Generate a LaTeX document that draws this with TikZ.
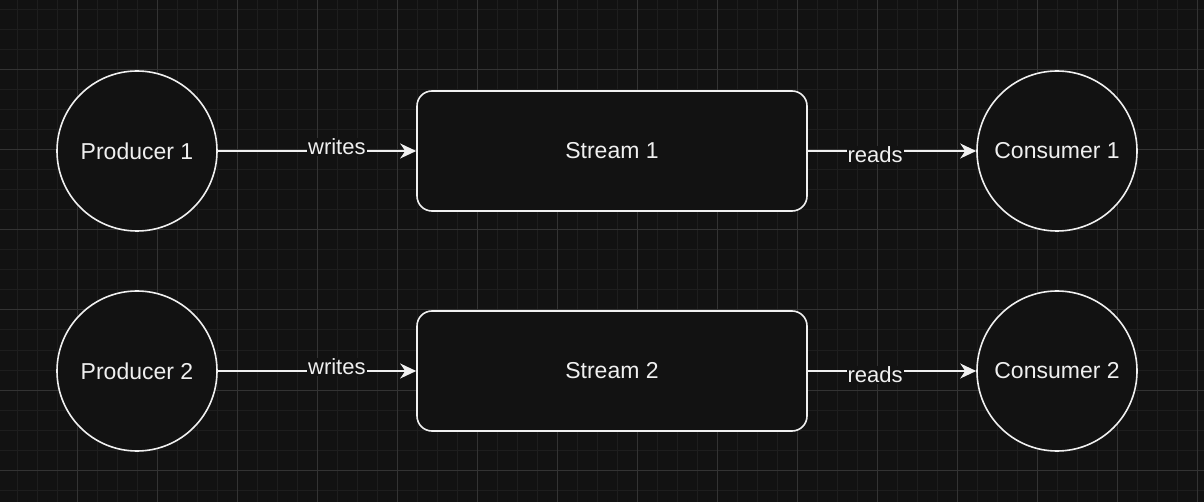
\documentclass[tikz,border=0pt]{standalone}
\usepackage{fontspec}
\setmainfont{Liberation Sans}
\usetikzlibrary{arrows.meta}
\definecolor{bg}{HTML}{121212}
\definecolor{minorgrid}{HTML}{1E1E1E}
\definecolor{majorgrid}{HTML}{333333}
\definecolor{ink}{HTML}{F0F0F0}
\begin{document}
\begin{tikzpicture}[x=1pt,y=-1pt,
  agent/.style={circle, draw=ink, fill=bg, line width=1.6pt, minimum size=160pt, inner sep=0pt, text=ink, font=\fontsize{23}{27}\selectfont},
  stream/.style={rectangle, rounded corners=15pt, draw=ink, fill=bg, line width=1.6pt, minimum width=390pt, minimum height=120pt, text=ink, font=\fontsize{23}{27}\selectfont},
  flow/.style={draw=ink, line width=1.6pt, -{Stealth[length=16pt,width=15pt,inset=5pt]}},
  lbl/.style={fill=bg, text=ink, inner sep=1pt, font=\fontsize{22}{26}\selectfont}]
\useasboundingbox (0,0) rectangle (1204,502);
\fill[bg] (0,0) rectangle (1204,502);
\foreach \x in {17,37,...,1197} \draw[minorgrid, line width=1pt] (\x,0) -- (\x,502);
\foreach \y in {10,30,...,490} \draw[minorgrid, line width=1pt] (0,\y) -- (1204,\y);
\foreach \x in {77,157,...,1197} \draw[majorgrid, line width=1pt] (\x,0) -- (\x,502);
\foreach \y in {70,150,...,470} \draw[majorgrid, line width=1pt] (0,\y) -- (1204,\y);
\node[agent] (prod1) at (137,151) {Producer 1};
\node[agent] (prod2) at (137,371) {Producer 2};
\node[stream] (str1) at (612,151) {Stream 1};
\node[stream] (str2) at (612,371) {Stream 2};
\node[agent] (cons1) at (1057,151) {Consumer 1};
\node[agent] (cons2) at (1057,371) {Consumer 2};
\draw[flow] (prod1) -- node[lbl, pos=0.6, yshift=4pt] {writes} (str1);
\draw[flow] (prod2) -- node[lbl, pos=0.6, yshift=4pt] {writes} (str2);
\draw[flow] (str1) -- node[lbl, pos=0.4, yshift=-4pt] {reads} (cons1);
\draw[flow] (str2) -- node[lbl, pos=0.4, yshift=-4pt] {reads} (cons2);
\end{tikzpicture}
\end{document}
